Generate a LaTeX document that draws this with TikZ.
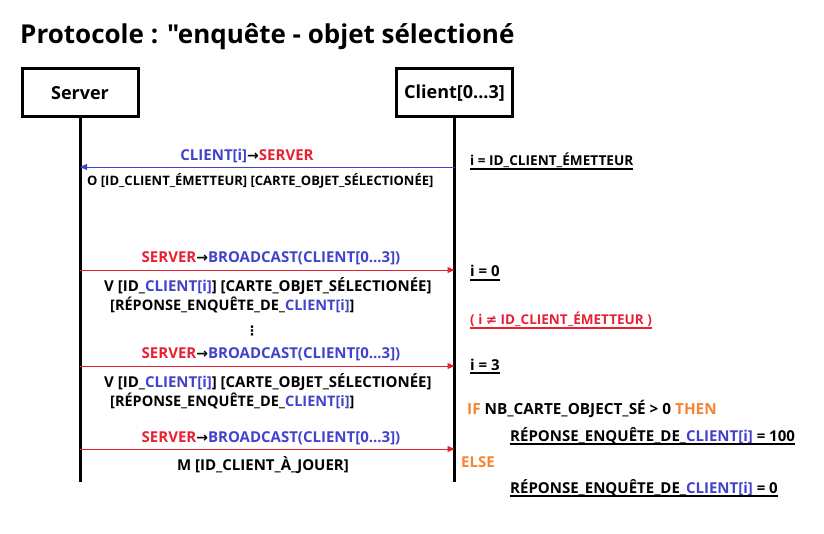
\documentclass[tikz,border=0pt]{standalone}
\usepackage{fontspec}
\setmainfont{Open Sans}[Ligatures=TeXOff]
\newfontfamily\dv{DejaVu Sans Bold}
\usetikzlibrary{arrows.meta}
\definecolor{cblue}{RGB}{66,66,204}
\definecolor{cred}{RGB}{232,32,52}
\definecolor{corange}{RGB}{246,132,52}
\newcommand{\myB}[1]{\textcolor{cblue}{#1}}
\newcommand{\myR}[1]{\textcolor{cred}{#1}}
\newcommand{\myO}[1]{\textcolor{corange}{#1}}
\newcommand{\myArr}{{\dv\fontsize{14}{15}\selectfont →}}
\newcommand{\fs}[1]{\bfseries\fontsize{#1}{#1}\selectfont}
\begin{document}
\begin{tikzpicture}[x=1pt,y=-1pt,
  every node/.style={font=\fs{13}, inner sep=0pt},
  actor/.style={draw, line width=3pt, minimum width=116pt, minimum height=48pt, font=\fs{18}},
  lbl/.style={anchor=base, font=\fs{15}},
  life/.style={line width=3pt},
  msgb/.style={draw=cblue, line width=0.9pt, -{Triangle[length=7pt,width=6pt]}},
  msgr/.style={draw=cred, line width=0.9pt, -{Triangle[length=7pt,width=6pt]}},
  note/.style={anchor=base west},
  ul/.style={line width=1.2pt}]
\useasboundingbox (0,0) rectangle (824,534);
\node[anchor=base west, font=\fs{26}] (title) at (20,44) {Protocole : "enquête - objet sélectioné};
\node[actor] (srv) at (80,93) {Server};
\node[actor] (cli) at (454.5,93) {Client[0...3]};
\coordinate (end) at (0,482);
\draw[life] (srv.south) -- (srv.south |- end);
\draw[life] (cli.south) -- (cli.south |- end);
% y levels
\coordinate (y1) at (0,167);
\coordinate (y2) at (0,270);
\coordinate (y3) at (0,366);
\coordinate (y4) at (0,449);
\draw[msgb] (cli.south |- y1) -- (srv.south |- y1);
\draw[msgr] (srv.south |- y2) -- (cli.south |- y2);
\draw[msgr] (srv.south |- y3) -- (cli.south |- y3);
\draw[msgr] (srv.south |- y4) -- (cli.south |- y4);
% labels
\node[lbl] (l1) at (247,161) {\myB{CLIENT[i]}\myArr\myR{SERVER}};
\node[anchor=base west, font=\fs{13}] (l1b) at (87,186) {O [ID\_CLIENT\_ÉMETTEUR] [CARTE\_OBJET\_SÉLECTIONÉE]};
\node[lbl] (l2) at (271,263) {\myR{SERVER}\myArr\myB{BROADCAST(CLIENT[0...3])}};
\node[anchor=base west, font=\fs{15}] (l2b) at (104,292) {V [ID\_\myB{CLIENT[i]}] [CARTE\_OBJET\_SÉLECTIONÉE]};
\node[anchor=base west, font=\fs{14.5}] (l2c) at (110,311) {[RÉPONSE\_ENQUÊTE\_DE\_\myB{CLIENT[i]}]};
\node[anchor=base] (dots) at (252,336) {\dv ⋮};
\node[lbl] (l3) at (271,358) {\myR{SERVER}\myArr\myB{BROADCAST(CLIENT[0...3])}};
\node[anchor=base west, font=\fs{15}] (l3b) at (104,387) {V [ID\_\myB{CLIENT[i]}] [CARTE\_OBJET\_SÉLECTIONÉE]};
\node[anchor=base west, font=\fs{14.5}] (l3c) at (110,406) {[RÉPONSE\_ENQUÊTE\_DE\_\myB{CLIENT[i]}]};
\node[lbl] (l4) at (271,442) {\myR{SERVER}\myArr\myB{BROADCAST(CLIENT[0...3])}};
\node[anchor=base, font=\fs{15}] (l4b) at (263,470) {M [ID\_CLIENT\_À\_JOUER]};
% right notes
\node[note, font=\fs{13.6}] (n1) at (470,166) {i = ID\_CLIENT\_ÉMETTEUR};
\draw[ul] ([yshift=-3pt]n1.base west) -- ([yshift=-3pt]n1.base east);
\node[note, font=\fs{15}] (n2) at (470,277) {i = 0};
\draw[ul] ([yshift=-3pt]n2.base west) -- ([yshift=-3pt]n2.base east);
\node[note, text=cred, font=\fs{13.5}] (n3) at (470,325) {( i {\dv ≠} ID\_CLIENT\_ÉMETTEUR )};
\draw[ul, cred] ([yshift=-3pt]n3.base west) -- ([yshift=-3pt]n3.base east);
\node[note, font=\fs{15}] (n4) at (470,370) {i = 3};
\draw[ul] ([yshift=-3pt]n4.base west) -- ([yshift=-3pt]n4.base east);
\node[note, font=\fs{15.3}] (n5) at (467,414) {\myO{IF} NB\_CARTE\_OBJECT\_SÉ > 0 \myO{THEN}};
\node[note, font=\fs{15}] (n6) at (510,441) {RÉPONSE\_ENQUÊTE\_DE\_\myB{CLIENT[i]} = 100};
\draw[ul] ([yshift=-3pt]n6.base west) -- ([yshift=-3pt]n6.base east);
\node[note, font=\fs{15}] (n7) at (461,467) {\myO{ELSE}};
\node[note, font=\fs{15}] (n8) at (510,493) {RÉPONSE\_ENQUÊTE\_DE\_\myB{CLIENT[i]} = 0};
\draw[ul] ([yshift=-3pt]n8.base west) -- ([yshift=-3pt]n8.base east);
\end{tikzpicture}
\end{document}
